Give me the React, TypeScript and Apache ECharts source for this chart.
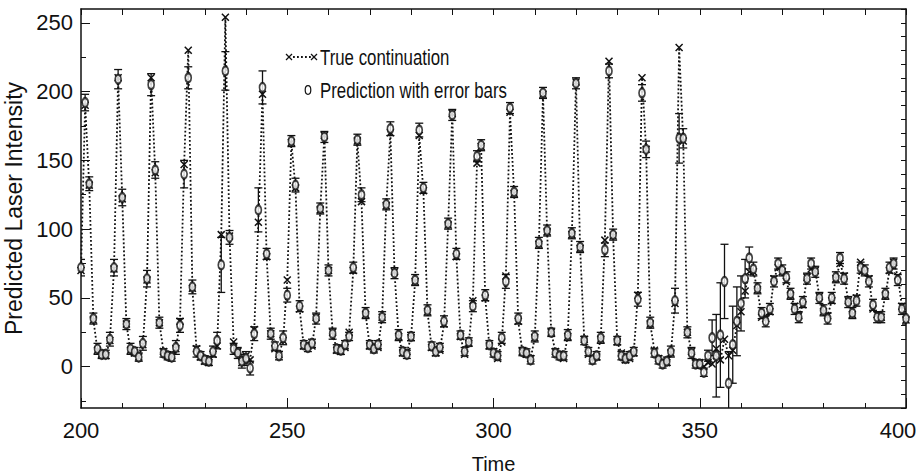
import React, { useEffect, useRef } from "react";
import * as echarts from "echarts";

// Time axis starts at 200, one sample per time step (t = 200 ... 400)
const START_TIME = 200;

// Predicted values (o markers), t = 200..400
const predicted: number[] = [
  72, 192, 133, 35, 13, 9, 9, 20, 72, 209,
  123, 31, 13, 11, 7, 17, 64, 205, 143, 32,
  10, 8, 7, 14, 30, 140, 210, 58, 11, 8,
  5, 4, 11, 19, 74, 215, 94, 13, 10, 4,
  6, -1, 24, 114, 203, 82, 24, 15, 8, 21,
  52, 164, 132, 44, 16, 14, 17, 35, 115, 167,
  70, 24, 13, 12, 16, 22, 72, 165, 125, 39,
  16, 13, 16, 36, 118, 173, 68, 23, 11, 9,
  22, 63, 172, 130, 41, 15, 11, 14, 33, 104,
  183, 82, 23, 11, 18, 44, 153, 161, 52, 16,
  10, 8, 21, 62, 188, 127, 35, 11, 10, 5,
  22, 90, 199, 99, 25, 10, 8, 8, 23, 97,
  206, 87, 19, 11, 5, 8, 21, 85, 215, 96,
  19, 8, 6, 8, 11, 49, 199, 158, 32, 10,
  5, 2, 4, 11, 48, 166, 166, 25, 10, 2,
  2, -4, 8, 21, 8, 23, 62, -12, 16, 33,
  46, 64, 79, 71, 57, 39, 33, 42, 62, 75,
  70, 65, 53, 42, 36, 47, 64, 75, 69, 50,
  41, 35, 50, 65, 79, 64, 47, 39, 48, 72,
  70, 62, 45, 36, 36, 53, 72, 75, 63, 42,
  35,
];

// True continuation (x markers, dotted line), t = 200..400
const trueContinuation: number[] = [
  70, 190, 132, 34, 12, 9, 8, 19, 71, 210,
  122, 31, 12, 10, 7, 16, 63, 210, 141, 32,
  11, 8, 8, 13, 33, 147, 230, 57, 13, 7,
  4, 3, 9, 15, 96, 254, 95, 18, 11, 3,
  8, 5, 27, 105, 198, 80, 24, 13, 9, 19,
  63, 163, 130, 42, 15, 15, 15, 36, 114, 168,
  70, 25, 12, 11, 14, 25, 70, 164, 120, 38,
  15, 13, 14, 36, 117, 170, 69, 22, 10, 11,
  21, 62, 168, 128, 40, 14, 10, 12, 31, 103,
  184, 80, 22, 9, 17, 48, 148, 160, 50, 15,
  11, 6, 18, 66, 185, 126, 33, 11, 9, 6,
  21, 89, 198, 98, 25, 11, 9, 6, 22, 96,
  207, 86, 20, 9, 6, 7, 20, 92, 222, 95,
  18, 10, 5, 6, 10, 52, 210, 158, 31, 12,
  6, 4, 3, 10, 46, 232, 164, 25, 11, 3,
  3, 0, 3, 2, 13, 5, 20, 8, 12, 30,
  40, 55, 69, 69, 56, 36, 35, 40, 64, 72,
  69, 62, 52, 44, 37, 45, 65, 71, 70, 51,
  40, 37, 48, 64, 75, 66, 48, 38, 50, 76,
  69, 64, 42, 38, 36, 52, 70, 76, 66, 44,
  34,
];

// Half-width of the error bar of each prediction, t = 200..400
const errorHalfWidth: number[] = [
  6, 6, 5, 4, 4, 3, 3, 5, 6, 7,
  6, 4, 4, 3, 3, 5, 6, 8, 6, 4,
  3, 3, 3, 5, 5, 10, 8, 5, 4, 3,
  3, 3, 4, 6, 20, 14, 5, 4, 4, 5,
  5, 5, 5, 16, 12, 4, 4, 3, 3, 5,
  5, 4, 5, 4, 3, 3, 3, 4, 4, 4,
  4, 4, 3, 3, 3, 3, 4, 4, 5, 4,
  3, 3, 3, 4, 4, 5, 4, 4, 3, 3,
  3, 4, 5, 4, 4, 3, 3, 3, 4, 4,
  4, 4, 3, 3, 3, 4, 4, 4, 4, 3,
  3, 3, 4, 5, 4, 4, 4, 3, 3, 3,
  4, 4, 4, 4, 3, 3, 3, 3, 4, 4,
  4, 4, 3, 3, 3, 3, 4, 5, 5, 4,
  3, 3, 3, 3, 3, 5, 6, 6, 4, 3,
  3, 3, 3, 4, 9, 18, 7, 4, 4, 3,
  3, 3, 4, 13, 30, 38, 27, 23, 28, 25,
  20, 14, 8, 5, 4, 4, 4, 4, 4, 4,
  4, 4, 4, 4, 4, 4, 4, 4, 4, 4,
  4, 4, 4, 4, 4, 4, 4, 4, 4, 4,
  4, 4, 4, 4, 4, 4, 4, 4, 4, 4,
  4,
];

const xLabelValues = [200, 250, 300, 350, 400];
const xMinorTicks = [200, 210, 220, 230, 240, 250, 260, 270, 280, 290, 300, 310, 320, 330, 340, 350, 360, 370, 380, 390, 400];
const yLabelValues = [0, 50, 100, 150, 200, 250];
const yMinorTicks = [-25, 25, 75, 125, 175, 225];
const yRightTicks = [-30, -20, -10, 0, 10, 20, 30, 40, 50, 60, 70, 80, 90, 100, 110, 120, 130, 140, 150, 160, 170, 180, 190, 200, 210, 220, 230, 240, 250, 260];

const X_MIN = 200;
const X_MAX = 400;
const Y_MIN = -30;
const Y_MAX = 260;

const TICK_FONT = "'Liberation Sans Narrow', 'Arial Narrow', 'Liberation Sans', Arial, sans-serif";
const TEXT_FONT = "'Liberation Sans', Arial, sans-serif";
const INK = "#111111";

export default function App() {
  const ref = useRef<HTMLDivElement>(null);

  useEffect(() => {
    if (!ref.current) return;
    const chart = echarts.init(ref.current, undefined, { renderer: "svg" });

    const trueData = trueContinuation.map((v, i) => [START_TIME + i, v]);
    const predData = predicted.map((v, i) => [START_TIME + i, v]);
    const errData = predicted.map((v, i) => [START_TIME + i, v - errorHalfWidth[i], v + errorHalfWidth[i]]);

    const xMark = "path://M0,0L10,10M10,0L0,10";
    const frameLine = { show: true, onZero: false, lineStyle: { color: INK, width: 1.5 } };
    const tickLine = { color: INK, width: 1 };

    const option: any = {
      animation: false,
      backgroundColor: "#ffffff",
      grid: { left: 81, right: 13, top: 9, bottom: 66, containLabel: false, outerBoundsMode: "none" },
      xAxis: [
        {
          type: "value",
          min: X_MIN,
          max: X_MAX,
          position: "bottom",
          axisLine: frameLine,
          axisTick: { show: true, inside: true, length: 5, customValues: xMinorTicks, lineStyle: tickLine },
          axisLabel: {
            show: true,
            customValues: xLabelValues,
            fontSize: 22,
            fontFamily: TICK_FONT,
            color: INK,
            margin: 11,
            formatter: (v: number) => (v === X_MAX ? "{last|" + v + "}" : String(v)),
            rich: { last: { fontSize: 22, fontFamily: TICK_FONT, color: INK, padding: [0, 16, 0, 0] } },
          },
          splitLine: { show: false },
          name: "Time",
          nameLocation: "middle",
          nameGap: 46,
          nameTextStyle: { fontSize: 20, fontFamily: TICK_FONT, color: INK },
        },
        {
          type: "value",
          min: X_MIN,
          max: X_MAX,
          position: "bottom",
          axisLine: { show: false, onZero: false },
          axisTick: { show: true, inside: true, length: 10, customValues: xLabelValues, lineStyle: tickLine },
          axisLabel: { show: false },
          splitLine: { show: false },
        },
        {
          type: "value",
          min: X_MIN,
          max: X_MAX,
          position: "top",
          axisLine: frameLine,
          axisTick: { show: true, inside: true, length: 6, customValues: xMinorTicks, lineStyle: tickLine },
          axisLabel: { show: false },
          splitLine: { show: false },
        },
      ],
      yAxis: [
        {
          type: "value",
          min: Y_MIN,
          max: Y_MAX,
          position: "left",
          axisLine: frameLine,
          axisTick: { show: true, inside: true, length: 9, customValues: yLabelValues, lineStyle: tickLine },
          axisLabel: { show: true, customValues: yLabelValues, fontSize: 22, fontFamily: TICK_FONT, color: INK, margin: 8 },
          splitLine: { show: false },
          name: "Predicted Laser Intensity",
          nameLocation: "middle",
          nameGap: 49,
          nameTextStyle: { fontSize: 23, fontFamily: TEXT_FONT, color: INK },
        },
        {
          type: "value",
          min: Y_MIN,
          max: Y_MAX,
          position: "left",
          axisLine: { show: false, onZero: false },
          axisTick: { show: true, inside: true, length: 5, customValues: yMinorTicks, lineStyle: tickLine },
          axisLabel: { show: false },
          splitLine: { show: false },
        },
        {
          type: "value",
          min: Y_MIN,
          max: Y_MAX,
          position: "right",
          axisLine: frameLine,
          axisTick: { show: true, inside: true, length: 5, customValues: yRightTicks, lineStyle: tickLine },
          axisLabel: { show: false },
          splitLine: { show: false },
        },
      ],
      series: [
        {
          type: "custom",
          name: "errors",
          xAxisIndex: 0,
          yAxisIndex: 0,
          data: errData,
          encode: { x: 0, y: [1, 2] },
          clip: true,
          z: 2,
          renderItem: (params: any, api: any) => {
            const x = api.value(0);
            const lo = api.value(1);
            const hi = api.value(2);
            const top = api.coord([x, hi]);
            const bot = api.coord([x, lo]);
            const cs = params.coordSys;
            const yTop = cs.y;
            const yBot = cs.y + cs.height;
            const cap = 4;
            const style = { stroke: INK, lineWidth: 1.3 };
            const children: any[] = [
              { type: "line", shape: { x1: top[0], y1: Math.max(top[1], yTop), x2: top[0], y2: Math.min(bot[1], yBot) }, style },
            ];
            if (top[1] >= yTop) children.push({ type: "line", shape: { x1: top[0] - cap, y1: top[1], x2: top[0] + cap, y2: top[1] }, style });
            if (bot[1] <= yBot) children.push({ type: "line", shape: { x1: bot[0] - cap, y1: bot[1], x2: bot[0] + cap, y2: bot[1] }, style });
            return { type: "group", children };
          },
        },
        {
          type: "line",
          name: "True continuation",
          xAxisIndex: 0,
          yAxisIndex: 0,
          data: trueData,
          symbol: xMark,
          symbolSize: 7,
          showAllSymbol: true,
          z: 3,
          lineStyle: { color: INK, width: 1.8, type: [1.8, 2.2] },
          itemStyle: { color: "rgba(0,0,0,0)", borderColor: INK, borderWidth: 1.5 },
        },
        {
          type: "scatter",
          name: "Prediction with error bars",
          xAxisIndex: 0,
          yAxisIndex: 0,
          data: predData,
          symbol: "emptyCircle",
          symbolSize: [6, 9],
          z: 4,
          itemStyle: { color: INK, borderColor: INK, borderWidth: 1.1 },
        },
      ],
      graphic: [
        { type: "line", shape: { x1: 293, y1: 57, x2: 311, y2: 57 }, style: { stroke: INK, lineWidth: 1.8, lineDash: [1.8, 2.2] } },
        { type: "line", shape: { x1: 286, y1: 54, x2: 292, y2: 60 }, style: { stroke: INK, lineWidth: 1.3 } },
        { type: "line", shape: { x1: 292, y1: 54, x2: 286, y2: 60 }, style: { stroke: INK, lineWidth: 1.3 } },
        { type: "line", shape: { x1: 311, y1: 54, x2: 317, y2: 60 }, style: { stroke: INK, lineWidth: 1.3 } },
        { type: "line", shape: { x1: 317, y1: 54, x2: 311, y2: 60 }, style: { stroke: INK, lineWidth: 1.3 } },
        { type: "text", x: 320, y: 57, scaleX: 0.765, style: { text: "True continuation", fontSize: 22, fontFamily: TEXT_FONT, fill: INK, verticalAlign: "middle", align: "left" } },
        { type: "ellipse", shape: { cx: 308, cy: 90, rx: 2.8, ry: 4.3 }, style: { stroke: INK, fill: "#fff", lineWidth: 1.2 } },
        { type: "text", x: 320, y: 90, scaleX: 0.765, style: { text: "Prediction with error bars", fontSize: 22, fontFamily: TEXT_FONT, fill: INK, verticalAlign: "middle", align: "left" } },
      ],
    };

    chart.setOption(option);
    return () => chart.dispose();
  }, []);

  return <div ref={ref} style={{ position: "fixed", left: 0, top: 0, width: 919, height: 474, background: "#fff" }} />;
}
